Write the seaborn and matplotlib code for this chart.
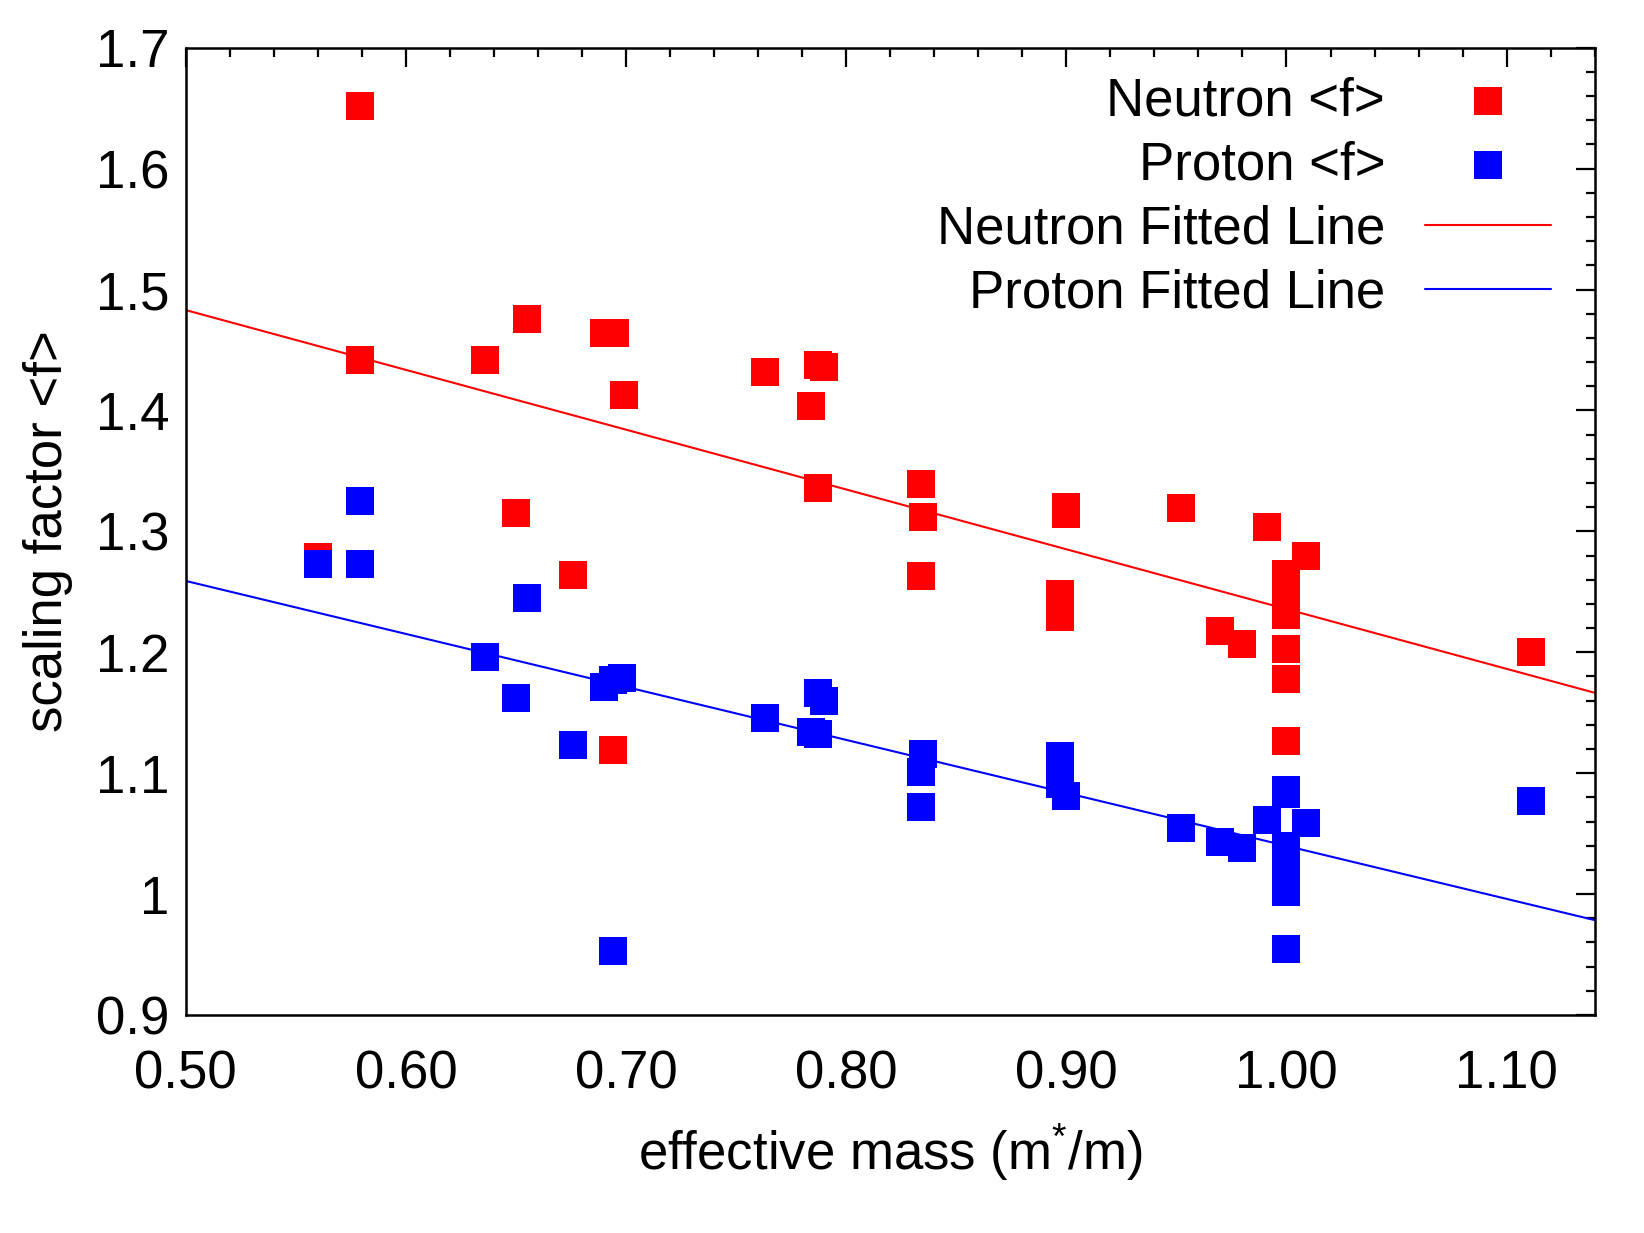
import numpy as np
import pandas as pd
import matplotlib
matplotlib.use('Agg')
import matplotlib.pyplot as plt
from matplotlib.ticker import MultipleLocator, FixedLocator, FixedFormatter
import seaborn as sns

# ----------------------- Data --------------------------------------------

neutron_mass = [0.560, 0.579, 0.579, 0.636, 0.650, 0.655, 0.676, 0.690, 0.695,
                0.694, 0.699, 0.763, 0.784, 0.787, 0.790, 0.787, 0.834, 0.835,
                0.834, 0.900, 0.900, 0.897, 0.897, 0.897, 0.952, 0.970, 0.980,
                0.991, 1.000, 1.000, 1.000, 1.000, 1.000, 1.000, 1.009, 1.111]
neutron_f = [1.279, 1.652, 1.442, 1.442, 1.315, 1.476, 1.264, 1.464, 1.464,
             1.119, 1.413, 1.432, 1.404, 1.438, 1.436, 1.336, 1.339, 1.312,
             1.263, 1.320, 1.314, 1.248, 1.238, 1.229, 1.319, 1.218, 1.207,
             1.304, 1.265, 1.242, 1.231, 1.203, 1.178, 1.127, 1.280, 1.200]

proton_mass = [0.560, 0.579, 0.579, 0.636, 0.650, 0.655, 0.676, 0.690, 0.694,
               0.698, 0.694, 0.763, 0.784, 0.787, 0.787, 0.790, 0.835, 0.834,
               0.834, 0.897, 0.897, 0.900, 0.952, 0.970, 0.980, 0.991, 1.000,
               1.000, 1.000, 1.000, 1.000, 1.000, 1.000, 1.000, 1.009, 1.111]
proton_f = [1.273, 1.325, 1.273, 1.196, 1.162, 1.245, 1.123, 1.171, 1.177,
            1.179, 0.953, 1.146, 1.134, 1.132, 1.166, 1.160, 1.116, 1.101,
            1.072, 1.114, 1.091, 1.081, 1.055, 1.043, 1.038, 1.061, 1.086,
            1.083, 1.040, 1.031, 1.021, 1.012, 1.002, 0.955, 1.059, 1.077]

# fitted lines (end points read at the plot edges)
fit_mass = [0.50, 1.14]
neutron_fit = [1.483, 1.1665]
proton_fit = [1.259, 0.9785]

x_ticks = [0.50, 0.60, 0.70, 0.80, 0.90, 1.00, 1.10]
x_tick_labels = ['0.50', '0.60', '0.70', '0.80', '0.90', '1.00', '1.10']
y_ticks = [0.9, 1.0, 1.1, 1.2, 1.3, 1.4, 1.5, 1.6, 1.7]
y_tick_labels = ['0.9', '1', '1.1', '1.2', '1.3', '1.4', '1.5', '1.6', '1.7']

neutrons = pd.DataFrame({'mass': neutron_mass, 'f': neutron_f})
protons = pd.DataFrame({'mass': proton_mass, 'f': proton_f})

# ----------------------- Figure ------------------------

sns.set_style('white')
plt.rcParams['font.family'] = ['Liberation Sans', 'DejaVu Sans']
plt.rcParams['mathtext.default'] = 'regular'
plt.rcParams['text.color'] = 'black'
plt.rcParams['axes.labelcolor'] = 'black'

fig = plt.figure(figsize=(16.44, 12.33), dpi=100)
ax = fig.add_axes([0.113, 0.1768, 0.857, 0.7845])

sns.scatterplot(data=neutrons, x='mass', y='f', ax=ax, color='#ff0000',
                marker='s', s=380, linewidth=0, label='Neutron <f>', zorder=3)
sns.scatterplot(data=protons, x='mass', y='f', ax=ax, color='#0000ff',
                marker='s', s=380, linewidth=0, label='Proton <f>', zorder=3)
sns.lineplot(x=fit_mass, y=neutron_fit, ax=ax, color='#ff0000', linewidth=1.5,
             label='Neutron Fitted Line', zorder=2)
sns.lineplot(x=fit_mass, y=proton_fit, ax=ax, color='#0000ff', linewidth=1.5,
             label='Proton Fitted Line', zorder=2)

ax.set_xlim(0.50, 1.14)
ax.set_ylim(0.9, 1.7)

ax.xaxis.set_major_locator(FixedLocator(x_ticks))
ax.xaxis.set_major_formatter(FixedFormatter(x_tick_labels))
ax.xaxis.set_minor_locator(MultipleLocator(0.02))
ax.yaxis.set_major_locator(FixedLocator(y_ticks))
ax.yaxis.set_major_formatter(FixedFormatter(y_tick_labels))
ax.yaxis.set_minor_locator(MultipleLocator(0.02))

ax.tick_params(which='both', direction='in', top=True, right=True,
               width=1.6, colors='black', labelcolor='black')
ax.tick_params(which='major', length=13.5, labelsize=38)
ax.tick_params(axis='x', which='major', pad=25)
ax.tick_params(axis='y', which='major', pad=12)
ax.tick_params(which='minor', length=6.5)

for sp in ax.spines.values():
    sp.set_linewidth(1.8)
    sp.set_color('black')

ax.set_xlabel('effective mass (m$^{*}$/m)', fontsize=38, labelpad=16)
ax.set_ylabel('scaling factor <f>', fontsize=38, labelpad=16)

ax.legend(loc='upper right', bbox_to_anchor=(0.9955, 1.0087),
          markerfirst=False, frameon=False, fontsize=38,
          handlelength=2.4, handletextpad=0.75, labelspacing=0.266,
          borderaxespad=0.3, scatterpoints=1)

fig.savefig('out.png', dpi=100)
